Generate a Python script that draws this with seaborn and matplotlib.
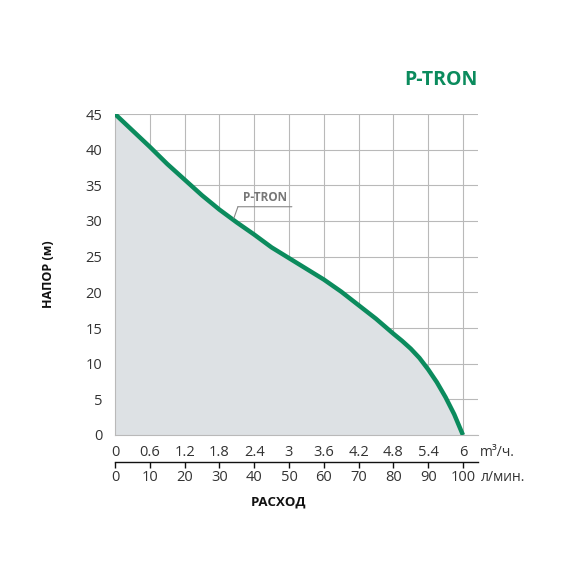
"""P-TRON pump curve: head vs flow, with a second flow scale in l/min."""
import matplotlib
matplotlib.use("Agg")
import matplotlib.pyplot as plt
import numpy as np
import pandas as pd
import seaborn as sns

# ----------------------------------------------------------------------
# data
# ----------------------------------------------------------------------
flow_m3h = [0.0, 0.3, 0.6, 0.9, 1.2, 1.5, 1.8, 2.1, 2.4, 2.7, 3.0, 3.3,
            3.6, 3.9, 4.2, 4.5, 4.8, 4.95, 5.1, 5.25, 5.4, 5.55, 5.7, 5.85, 6.0]
head_m = [45.0, 42.7, 40.4, 38.0, 35.8, 33.6, 31.6, 29.8, 28.1, 26.3, 24.8, 23.3,
          21.8, 20.1, 18.2, 16.3, 14.2, 13.2, 12.1, 10.8, 9.2, 7.4, 5.3, 2.9, 0.0]
m3h_ticks = [0, 0.6, 1.2, 1.8, 2.4, 3, 3.6, 4.2, 4.8, 5.4, 6]
m3h_labels = ["0", "0.6", "1.2", "1.8", "2.4", "3", "3.6", "4.2", "4.8", "5.4", "6"]
lmin_ticks = [0, 10, 20, 30, 40, 50, 60, 70, 80, 90, 100]
head_ticks = [0, 5, 10, 15, 20, 25, 30, 35, 40, 45]
series_name = "P-TRON"

GREEN = "#0b8b5d"
FILL = "#dde1e4"
GRID = "#b9b9b9"
TEXT = "#333333"

sns.set_style("white")
plt.rcParams["font.family"] = ["Open Sans", "DejaVu Sans"]

df = pd.DataFrame({"flow": flow_m3h, "head": head_m})

fig = plt.figure(figsize=(5.7, 5.7), dpi=100)
ax = fig.add_axes([115 / 570, 1 - 435 / 570, 363 / 570, 321 / 570])

ax.fill_between(df["flow"], df["head"], 0, color=FILL, lw=0, zorder=1)
sns.lineplot(data=df, x="flow", y="head", color=GREEN, lw=3.2, ax=ax,
             zorder=3, solid_capstyle="butt", solid_joinstyle="round")

ax.set_xlim(0, 6.26)
ax.set_ylim(0, 45)
ax.set_xticks(m3h_ticks)
ax.set_xticklabels(m3h_labels)
ax.set_yticks(head_ticks)
ax.grid(True, color=GRID, lw=0.8, zorder=0)
ax.set_axisbelow(True)
for side in ["top", "right"]:
    ax.spines[side].set_visible(False)
ax.spines["left"].set_color(GRID)
ax.spines["left"].set_linewidth(0.8)
ax.spines["bottom"].set_color(GRID)
ax.spines["bottom"].set_linewidth(0.8)
ax.tick_params(axis="y", length=5, width=0.8, color=GRID, pad=4,
               labelsize=10.5, labelcolor=TEXT)
ax.tick_params(axis="x", length=0, pad=7, labelsize=10.5, labelcolor=TEXT)
ax.set_xlabel("")
ax.set_ylabel("НАПОР (м)", fontsize=9, fontweight="bold", color="#111111",
              labelpad=22)

# second flow scale, l/min
sec = ax.secondary_xaxis(-0.084, functions=(lambda x: x * 1000 / 60,
                                            lambda v: v * 60 / 1000))
sec.set_xticks(lmin_ticks)
sec.spines["bottom"].set_color("#111111")
sec.spines["bottom"].set_linewidth(1.0)
sec.tick_params(length=4, width=1.0, color="#111111", pad=2,
                labelsize=10.5, labelcolor=TEXT)

# unit labels
ax.text(1.005, -0.053, "m³/ч.", transform=ax.transAxes, ha="left",
        va="center", fontsize=10, color=TEXT)
ax.text(1.008, -0.131, "л/мин.", transform=ax.transAxes, ha="left",
        va="center", fontsize=10, color=TEXT)

# curve label with leader
ax.annotate("", xy=(2.05, 30.4), xytext=(2.12, 32.0),
            arrowprops=dict(arrowstyle="-", color="#888888", lw=0.8,
                            shrinkA=0, shrinkB=0))
ax.annotate("", xy=(2.12, 32.0), xytext=(3.05, 32.0),
            arrowprops=dict(arrowstyle="-", color="#888888", lw=0.8,
                            shrinkA=0, shrinkB=0))
ax.text(2.59, 33.3, series_name, ha="center", va="center", fontsize=8.5,
        fontweight="bold", color="#777777")

fig.text(279 / 570, 1 - 502 / 570, "РАСХОД", ha="center", va="center",
         fontsize=9.5, fontweight="bold", color="#111111")
fig.text(478 / 570, 1 - 80 / 570, series_name, ha="right", va="center",
         fontsize=14, fontweight="bold", color=GREEN)

fig.savefig("out.png", dpi=100)
plt.close(fig)
